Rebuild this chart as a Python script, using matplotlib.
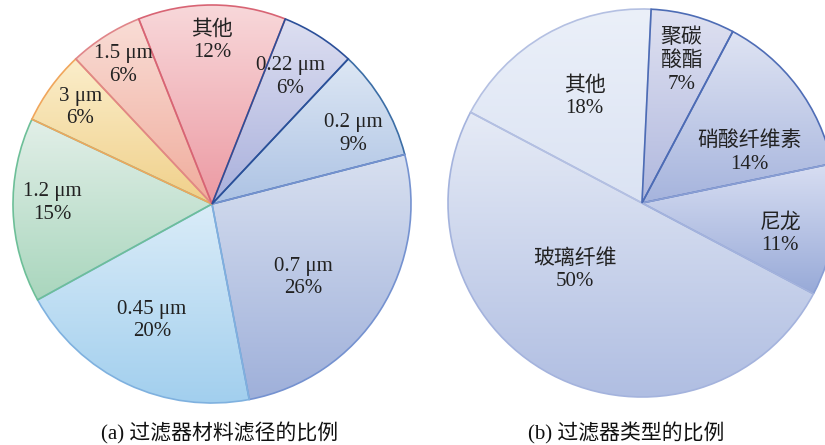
import numpy as np
import matplotlib.pyplot as plt
from matplotlib.colors import to_rgb

# (a) filter pore size shares
size_labels = ['0.22 μm', '0.2 μm', '0.7 μm', '0.45 μm', '1.2 μm', '3 μm', '1.5 μm', '其他']
size_pct = [6, 9, 26, 20, 15, 6, 6, 12]

# (b) filter type shares
type_labels = ['聚碳\n酸酯', '硝酸纤维素', '尼龙', '玻璃纤维', '其他']
type_pct = [7, 14, 11, 50, 18]

caption_a = '(a) 过滤器材料滤径的比例'
caption_b = '(b) 过滤器类型的比例'

# slice colours: light (top) -> dark (bottom), plus edge
size_top = ['#dddff1', '#dde7f4', '#d8e0f0', '#daecf8', '#e2efe8', '#fbeecb', '#f9ddd6', '#f8d8da']
size_bot = ['#a9b0dc', '#adc3e4', '#9fb0da', '#a2cfee', '#a9d6bd', '#f0d08a', '#f0ac9c', '#ec9aa3']
size_edge = ['#2b4f99', '#3c6ea6', '#7592d0', '#7fb1df', '#6dbf98', '#f0a65c', '#e0868a', '#d86474']

type_top = ['#dfe1f1', '#dfe4f3', '#d8def2', '#e6ebf6', '#ebf0f9']
type_bot = ['#b0b8de', '#a6b4dd', '#98aad8', '#b0bee2', '#dbe3f3']
type_edge = ['#4d6cb5', '#4f6db6', '#8a9fd4', '#a4b3dd', '#b4c0e2']

# label placement (fraction of radius, angle offset from slice middle)
size_lab_r = [0.75, 0.79, 0.59, 0.66, 0.80, 0.82, 0.83, 0.82]
size_lab_da = [0.8, -4.2, -6.3, -2.1, -2.2, -0.3, 0.2, 0]
type_lab_r = [0.76, 0.61, 0.73, 0.49, 0.62]
type_lab_da = [-0.3, -11.6, -4.6, -17.1, -1.3]

plt.rcParams['font.family'] = ['Liberation Serif', 'Noto Sans CJK SC']

fig = plt.figure(figsize=(8.25, 4.45), dpi=100)
ax = fig.add_axes([0, 0, 1, 1])


def gradient_pie(ax, values, labels, center, radius, start, tops, bots, edges, lab_r, lab_da):
    wedges, _ = ax.pie(values, center=center, radius=radius, startangle=start,
                       counterclock=False, frame=True, wedgeprops=dict(linewidth=1.2))
    t = np.linspace(0, 1, 128)[:, None]
    for w, c0, c1, ec in zip(wedges, tops, bots, edges):
        w.set_facecolor('none')
        w.set_edgecolor(ec)
        w.set_zorder(3)
        ext = w.get_path().get_extents()
        img = (1 - t) * np.array(to_rgb(c0)) + t * np.array(to_rgb(c1))
        im = ax.imshow(img[:, None, :], extent=(ext.x0, ext.x1, ext.y0, ext.y1),
                       origin='upper', aspect='auto', interpolation='bilinear', zorder=1)
        im.set_clip_path(w)
    # first slice border drawn on top of the last one
    wedges[0].set_zorder(4)
    for w, lab, v, r, da in zip(wedges, labels, values, lab_r, lab_da):
        a = np.deg2rad((w.theta1 + w.theta2) / 2 + da)
        x = center[0] + r * radius * np.cos(a)
        y = center[1] + r * radius * np.sin(a)
        ax.text(x, y, f'{lab}\n{v}%', ha='center', va='center', fontsize=15,
                linespacing=1.25, color='#222222', zorder=5)


gradient_pie(ax, size_pct, size_labels, (212, 241), 199, 68.4,
             size_top, size_bot, size_edge, size_lab_r, size_lab_da)
gradient_pie(ax, type_pct, type_labels, (642, 242), 194, 87.3,
             type_top, type_bot, type_edge, type_lab_r, type_lab_da)

ax.text(220, 12, caption_a, ha='center', va='center', fontsize=15, color='#111111')
ax.text(626, 12, caption_b, ha='center', va='center', fontsize=15, color='#111111')

ax.set_xlim(0, 825)
ax.set_ylim(0, 445)
ax.set_aspect('equal')
ax.axis('off')

fig.savefig('out.png', dpi=100)
